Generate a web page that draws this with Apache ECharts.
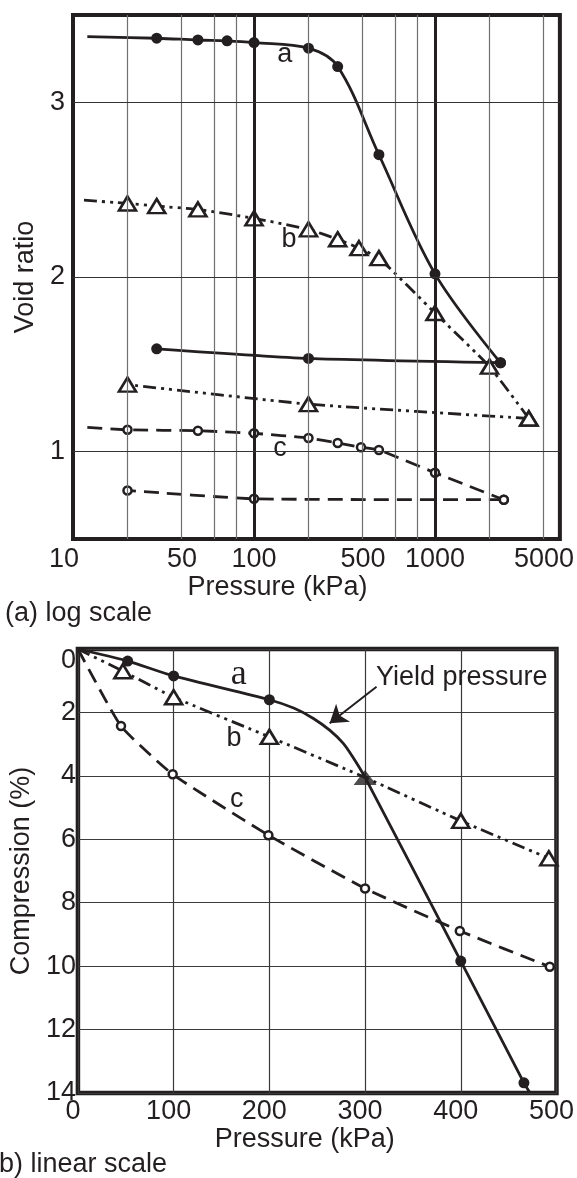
<!DOCTYPE html>
<html>
<head>
<meta charset="utf-8">
<script src="https://cdn.jsdelivr.net/npm/echarts@6/dist/echarts.min.js"></script>
<style>html,body{margin:0;padding:0;background:#fff}#c{width:577px;height:1178px}</style>
</head>
<body>
<div id="c"></div>
<script>
// ---- (a) log scale: pressure (kPa) vs void ratio ----
var aLoadP = [12, 29, 49, 71, 100, 200, 290, 490, 1000, 2300];
var aLoadE = [3.376, 3.367, 3.357, 3.352, 3.342, 3.310, 3.205, 2.700, 2.018, 1.509];
var aUnP = [2300, 200, 29];
var aUnE = [1.509, 1.534, 1.589];
var bLoadP = [11.5, 20, 29, 49, 100, 200, 290, 380, 490, 1000, 2000, 3300];
var bLoadE = [2.440, 2.421, 2.406, 2.387, 2.336, 2.273, 2.216, 2.165, 2.108, 1.794, 1.487, 1.190];
var bUnP = [3300, 200, 20];
var bUnE = [1.190, 1.272, 1.384];
var cLoadP = [12, 20, 49, 100, 200, 290, 390, 490, 1000, 2400];
var cLoadE = [1.139, 1.125, 1.120, 1.105, 1.078, 1.050, 1.025, 1.010, 0.879, 0.725];
var cUnP = [2400, 100, 20];
var cUnE = [0.725, 0.730, 0.778];

var logGrid = [20, 40, 60, 80, 100, 200, 400, 600, 800, 1000, 2000, 4000];
var logTickP = [10, 40, 100, 400, 1000, 4000];
var logTickLabels = ['10', '50', '100', '500', '1000', '5000'];
var voidTicks = [1, 2, 3];
var topTags = ['a', 'b', 'c'];
var topTagP = [148, 156, 139];
var topTagE = [3.276, 2.212, 1.015];

// ---- (b) linear scale: pressure (kPa) vs compression (%) ----
// curve a includes unmarked points traced along the knee and its tail
var aLinP = [0, 52, 100, 200, 226, 246, 263, 277, 287, 300, 400, 466, 472];
var aLinC = [0, 0.38, 0.85, 1.60, 1.87, 2.19, 2.56, 2.97, 3.40, 4.05, 9.84, 13.68, 13.98];
var bLinP = [0, 47, 100, 200, 300, 400, 492];
var bLinC = [0, 0.70, 1.52, 2.77, 4.05, 5.42, 6.60];
var cLinP = [0, 45, 99, 199, 300, 399, 493];
var cLinC = [0, 2.43, 3.95, 5.87, 7.55, 8.89, 10.02];
var yieldP = [300];
var yieldC = [4.05];
var botTags = ['a', 'b', 'c'];
var botTagP = [168, 163, 166];
var botTagC = [0.82, 2.82, 4.76];
var arrowFrom = [312, 1.19];
var arrowTo = [263, 2.34];

var INK = '#231f20';
var FONT = 'Liberation Sans';

function pts(xs, ys, logX, bare) {
  return xs.map(function (x, i) {
    var item = {value: [logX ? Math.log10(x) : x, ys[i]]};
    if (bare.indexOf(i) >= 0) item.symbol = 'none';
    return item;
  });
}

function curve(kind, data, gi, smooth) {
  var s = {
    type: 'line', xAxisIndex: gi, yAxisIndex: gi, data: data, z: 3,
    smooth: smooth, silent: true, animation: false,
    lineStyle: {color: INK, width: 2.8}
  };
  if (kind == 'a') {
    s.symbol = 'circle'; s.symbolSize = 11;
    s.itemStyle = {color: INK};
  } else if (kind == 'b') {
    s.symbol = 'triangle'; s.symbolSize = [17, 14];
    s.itemStyle = {color: '#fff', borderColor: INK, borderWidth: 2.6};
    s.lineStyle.type = [13, 5, 3, 5, 3, 5];
  } else {
    s.symbol = 'circle'; s.symbolSize = 8;
    s.itemStyle = {color: '#fff', borderColor: INK, borderWidth: 2.5};
    s.lineStyle.type = [15, 8];
  }
  return s;
}

function textLab(txt, size, family) {
  return {show: true, position: 'inside', formatter: txt, fontFamily: family || FONT, fontSize: size,
    color: INK, textBorderWidth: 0, opacity: 1};
}

function tags(names, xs, ys, logX, gi, size, cBg) {
  return {
    type: 'scatter', xAxisIndex: gi, yAxisIndex: gi, z: 2, silent: true, animation: false,
    symbolSize: 1, itemStyle: {color: '#fff'},
    data: names.map(function (n, i) {
      var lab = textLab(n, size);
      if (cBg && n == 'c') { lab.backgroundColor = '#fff'; lab.padding = [0, 5]; lab.lineHeight = 14; }
      return {value: [logX ? Math.log10(xs[i]) : xs[i], ys[i]], label: lab};
    })
  };
}

var myChart = echarts.init(document.getElementById('c'));
var lab = {fontFamily: FONT, fontSize: 27, color: INK};

option = {
  backgroundColor: '#fff',
  animation: false,
  title: [
    {text: '(a) log scale', left: 5, top: 600, padding: 0, textStyle: {fontFamily: FONT, fontSize: 27, fontWeight: 'normal', color: INK}},
    {text: 'b) linear scale', left: -1, top: 1151, padding: 0, textStyle: {fontFamily: FONT, fontSize: 27, fontWeight: 'normal', color: INK}}
  ],
  grid: [
    {left: 73, top: 15, width: 487, height: 524, show: true, borderColor: INK, borderWidth: 4, backgroundColor: 'transparent'},
    {left: 73, top: 649, width: 487, height: 444, show: true, borderColor: INK, borderWidth: 4.5, backgroundColor: 'transparent'}
  ],
  xAxis: [
    {
      gridIndex: 0, type: 'value', min: 1, max: 3.69,
      axisLine: {show: false}, axisTick: {show: false}, splitLine: {show: false},
      axisLabel: Object.assign({
        margin: 7,
        customValues: logTickP.map(function (p) { return Math.log10(p); }),
        formatter: function (v) {
          for (var i = 0; i < logTickP.length; i++) {
            if (Math.abs(Math.log10(logTickP[i]) - v) < 1e-6) {
              return i == 0 ? '{l|' + logTickLabels[i] + '}' : logTickLabels[i];
            }
          }
          return '';
        },
        rich: {l: {fontFamily: FONT, fontSize: 27, color: INK, padding: [0, 18, 0, 0]}}
      }, lab),
      name: 'Pressure (kPa)', nameLocation: 'middle', nameGap: 28,
      nameTextStyle: Object.assign({padding: [0, 78, 0, 0]}, lab)
    },
    {
      gridIndex: 1, type: 'value', min: 0, max: 500, interval: 100,
      axisLine: {show: false}, axisTick: {show: false},
      splitLine: {show: true, lineStyle: {color: '#3a3a3a', width: 1.2}},
      axisLabel: Object.assign({margin: 5, padding: [0, 10, 0, 0]}, lab),
      name: 'Pressure (kPa)', nameLocation: 'middle', nameGap: 32,
      nameTextStyle: Object.assign({padding: [0, 25, 0, 0]}, lab)
    }
  ],
  yAxis: [
    {
      gridIndex: 0, type: 'value', min: 0.5, max: 3.5,
      axisLine: {show: false}, axisTick: {show: false}, splitLine: {show: false},
      axisLabel: Object.assign({margin: 8, customValues: voidTicks}, lab),
      name: 'Void ratio', nameLocation: 'middle', nameGap: 32, nameTextStyle: lab
    },
    {
      gridIndex: 1, type: 'value', min: 0, max: 14, interval: 2, inverse: true,
      axisLine: {show: false}, axisTick: {show: false},
      splitLine: {show: true, lineStyle: {color: '#3a3a3a', width: 1.2}},
      axisLabel: Object.assign({
        margin: 2,
        formatter: function (v) { return v == 0 ? '{z|0}' : String(v); },
        rich: {z: {fontFamily: FONT, fontSize: 27, color: INK, padding: [24, 0, 0, 0]}}
      }, lab),
      name: 'Compression (%)', nameLocation: 'middle', nameGap: 34, nameTextStyle: lab
    }
  ],
  series: []
};

// grid lines of the log chart
option.series.push({
  type: 'line', xAxisIndex: 0, yAxisIndex: 0, data: [], z: 1, silent: true,
  markLine: {
    silent: true, symbol: 'none', animation: false, label: {show: false},
    data: logGrid.map(function (p) {
      var dec = (p == 100 || p == 1000);
      return {xAxis: Math.log10(p), lineStyle: {type: 'solid', color: dec ? INK : '#6f6f6f', width: dec ? 3 : 1.2}};
    }).concat(voidTicks.map(function (v) {
      return {yAxis: v, lineStyle: {type: 'solid', color: '#333', width: 1.2}};
    }))
  }
});

option.series.push(curve('a', pts(aLoadP, aLoadE, true, [0]), 0, 0.35));
option.series.push(curve('a', pts(aUnP, aUnE, true, []), 0, 0.2));
option.series.push(curve('b', pts(bLoadP, bLoadE, true, [0]), 0, 0.15));
option.series.push(curve('b', pts(bUnP, bUnE, true, []), 0, 0.15));
option.series.push(curve('c', pts(cLoadP, cLoadE, true, [0]), 0, 0.15));
option.series.push(curve('c', pts(cUnP, cUnE, true, []), 0, 0.15));
option.series.push(tags(topTags, topTagP, topTagE, true, 0, 27, true));

option.series.push(curve('a', pts(aLinP, aLinC, false, [0, 4, 5, 6, 7, 8, 9, 12]), 1, 0.25));
option.series.push(curve('b', pts(bLinP, bLinC, false, [0, 4]), 1, 0.1));
option.series.push(curve('c', pts(cLinP, cLinC, false, [0]), 1, 0.15));
option.series.push({
  type: 'scatter', xAxisIndex: 1, yAxisIndex: 1, z: 4, silent: true,
  symbol: 'triangle', symbolSize: [23, 15], itemStyle: {color: INK},
  data: yieldP.map(function (p, i) { return [p, yieldC[i]]; })
});
var bt = tags(botTags, botTagP, botTagC, false, 1, 27, false);
bt.data[0].label.fontFamily = 'Liberation Sans Narrow';
bt.data[0].label.fontSize = 36;
option.series.push(bt);
// "Yield pressure" label and arrow
option.series.push({
  type: 'scatter', xAxisIndex: 1, yAxisIndex: 1, z: 4, silent: true,
  symbolSize: 1, itemStyle: {color: '#fff'},
  data: [{value: [401, 0.915], label: textLab('Yield pressure', 27)}],
  markLine: {
    silent: true, animation: false, symbol: ['none', 'arrow'], symbolSize: 17,
    label: {show: false}, lineStyle: {type: 'solid', color: INK, width: 2},
    data: [[{coord: arrowFrom}, {coord: arrowTo}]]
  }
});

option && myChart.setOption(option);
</script>
</body>
</html>
